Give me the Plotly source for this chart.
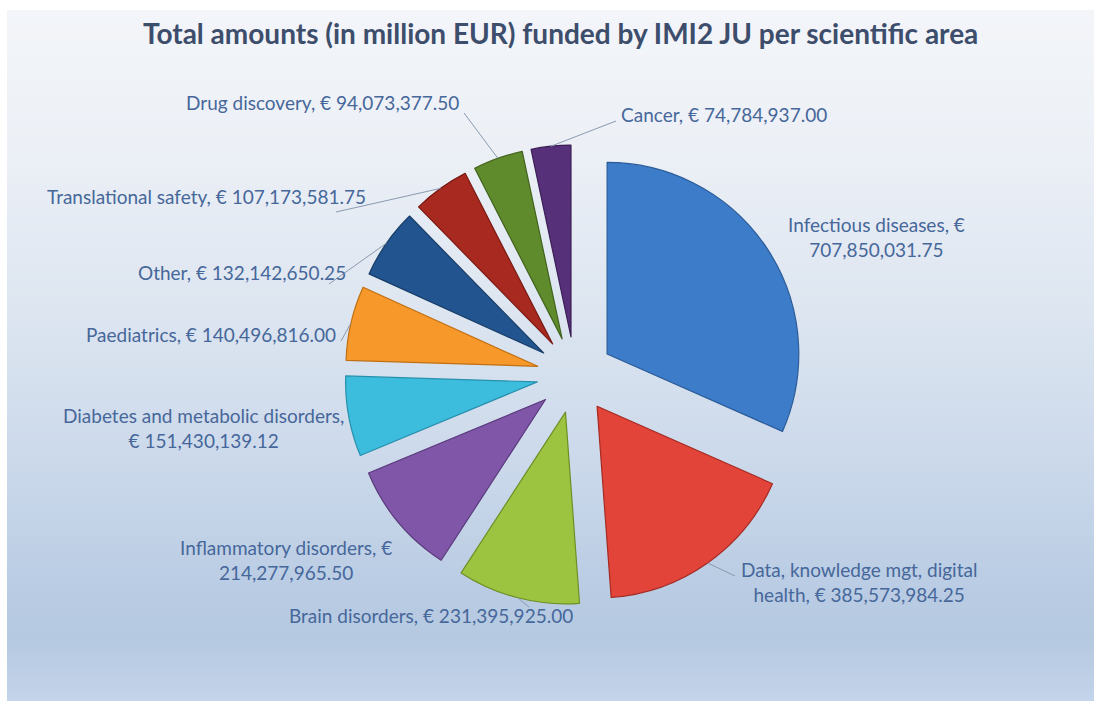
import math
import plotly.graph_objects as go

# ---------------- data ----------------
categories = [
    "Infectious diseases",
    "Data, knowledge mgt, digital health",
    "Brain disorders",
    "Inflammatory disorders",
    "Diabetes and metabolic disorders",
    "Paediatrics",
    "Other",
    "Translational safety",
    "Drug discovery",
    "Cancer",
]
amounts_eur = [
    707850031.75,
    385573984.25,
    231395925.00,
    214277965.50,
    151430139.12,
    140496816.00,
    132142650.25,
    107173581.75,
    94073377.50,
    74784937.00,
]
# how each label is wrapped (text only)
label_formats = [
    "Infectious diseases, €<br>{v}",
    "Data, knowledge mgt, digital<br>health, € {v}",
    "Brain disorders, € {v}",
    "Inflammatory disorders, €<br>{v}",
    "Diabetes and metabolic disorders,<br>€ {v}",
    "Paediatrics, € {v}",
    "Other, € {v}",
    "Translational safety, € {v}",
    "Drug discovery, € {v}",
    "Cancer, € {v}",
]
title_text = "Total amounts (in million EUR) funded by IMI2 JU per scientific area"

# ---------------- style ----------------
W, H = 1094, 701
slice_colors = ["#3D7CC9", "#E2443A", "#9DC441", "#7F56A8", "#3DBDDD",
                "#F7982B", "#22558F", "#A82920", "#5F8B2D", "#57307A"]
edge_colors = ["#2B5C99", "#A52A22", "#6E8F25", "#5A3A7C", "#2690AD",
               "#C06F12", "#173D68", "#7A1A14", "#41631C", "#3C1F56"]
label_color = "#46679A"
title_color = "#3D4D6C"
PULL = 0.2
CX, CY, HALF = 575, 375, 230          # pie centre / half size in pixels
# label placement (pixels) : x, y, xanchor, leader start (or None)
label_layout = [
    (876, 237, "center", None),
    (859, 582, "center", (735, 576)),
    (431, 615, "center", (529, 607)),
    (286, 560, "center", None),
    (203, 428, "center", None),
    (338, 334, "right", (341, 341)),
    (348, 273, "right", (329, 284)),
    (368, 196, "right", (336, 212)),
    (461, 103, "right", (464, 113)),
    (619, 115, "left", (616, 121)),
]

def px(x):
    return x / W

def py(y):
    return 1 - y / H

fig = go.Figure()

fig.add_trace(go.Pie(
    labels=categories,
    values=amounts_eur,
    sort=False,
    direction="clockwise",
    rotation=0,
    pull=[PULL] * len(categories),
    marker=dict(colors=slice_colors, line=dict(color=edge_colors, width=1.2)),
    textinfo="none",
    hoverinfo="label+value",
    showlegend=False,
    domain=dict(x=[px(CX - HALF), px(CX + HALF)],
                y=[py(CY + HALF), py(CY - HALF)]),
))

# ---------------- background gradient ----------------
stops = [(10, (243, 245, 249)), (150, (236, 240, 246)), (300, (222, 230, 241)),
         (450, (205, 218, 235)), (600, (184, 203, 227)), (640, (181, 201, 225)),
         (701, (196, 212, 234))]
shapes = []
band = 4
y = 10
while y < H:
    yc = y + band / 2
    for (a, ca), (b, cb) in zip(stops[:-1], stops[1:]):
        if a <= yc <= b:
            t = (yc - a) / (b - a)
            c = tuple(int(round(ca[i] + (cb[i] - ca[i]) * t)) for i in range(3))
            break
    else:
        c = stops[-1][1]
    shapes.append(dict(type="rect", xref="paper", yref="paper", layer="below",
                       x0=px(7), x1=1, y0=py(min(y + band + 0.5, H)), y1=py(y),
                       fillcolor="rgb(%d,%d,%d)" % c, line=dict(width=0)))
    y += band

# ---------------- labels + leader lines ----------------
total = sum(amounts_eur)
R_out = HALF  # radius of the pulled slices' outer arc
annotations = []
cum = 0.0
for cat, val, fmt, (lx, ly, anchor, lead) in zip(categories, amounts_eur,
                                                  label_formats, label_layout):
    mid = (cum + val / 2) / total * 2 * math.pi
    cum += val
    txt = fmt.format(v=f"{val:,.2f}")
    annotations.append(dict(x=px(lx), y=py(ly), xref="paper", yref="paper",
                            text=txt, showarrow=False, xanchor=anchor,
                            yanchor="middle", align="center",
                            font=dict(family="Lato", size=19, color=label_color)))
    if lead is not None:
        ex = CX + R_out * math.sin(mid)
        ey = CY - R_out * math.cos(mid)
        shapes.append(dict(type="line", xref="paper", yref="paper",
                           x0=px(lead[0]), y0=py(lead[1]), x1=px(ex), y1=py(ey),
                           line=dict(color="#8A9AB0", width=1)))

annotations.append(dict(x=px(560), y=py(33), xref="paper", yref="paper",
                        text="<b>" + title_text + "</b>", showarrow=False,
                        xanchor="center", yanchor="middle",
                        font=dict(family="Lato", size=28, color=title_color)))

fig.update_layout(
    width=W, height=H,
    margin=dict(l=0, r=0, t=0, b=0),
    paper_bgcolor="white",
    plot_bgcolor="rgba(0,0,0,0)",
    shapes=shapes,
    annotations=annotations,
)

fig.write_html("out.html",
               config={"displayModeBar": False},
               post_script="document.body.style.margin='0';document.body.style.padding='0';")
